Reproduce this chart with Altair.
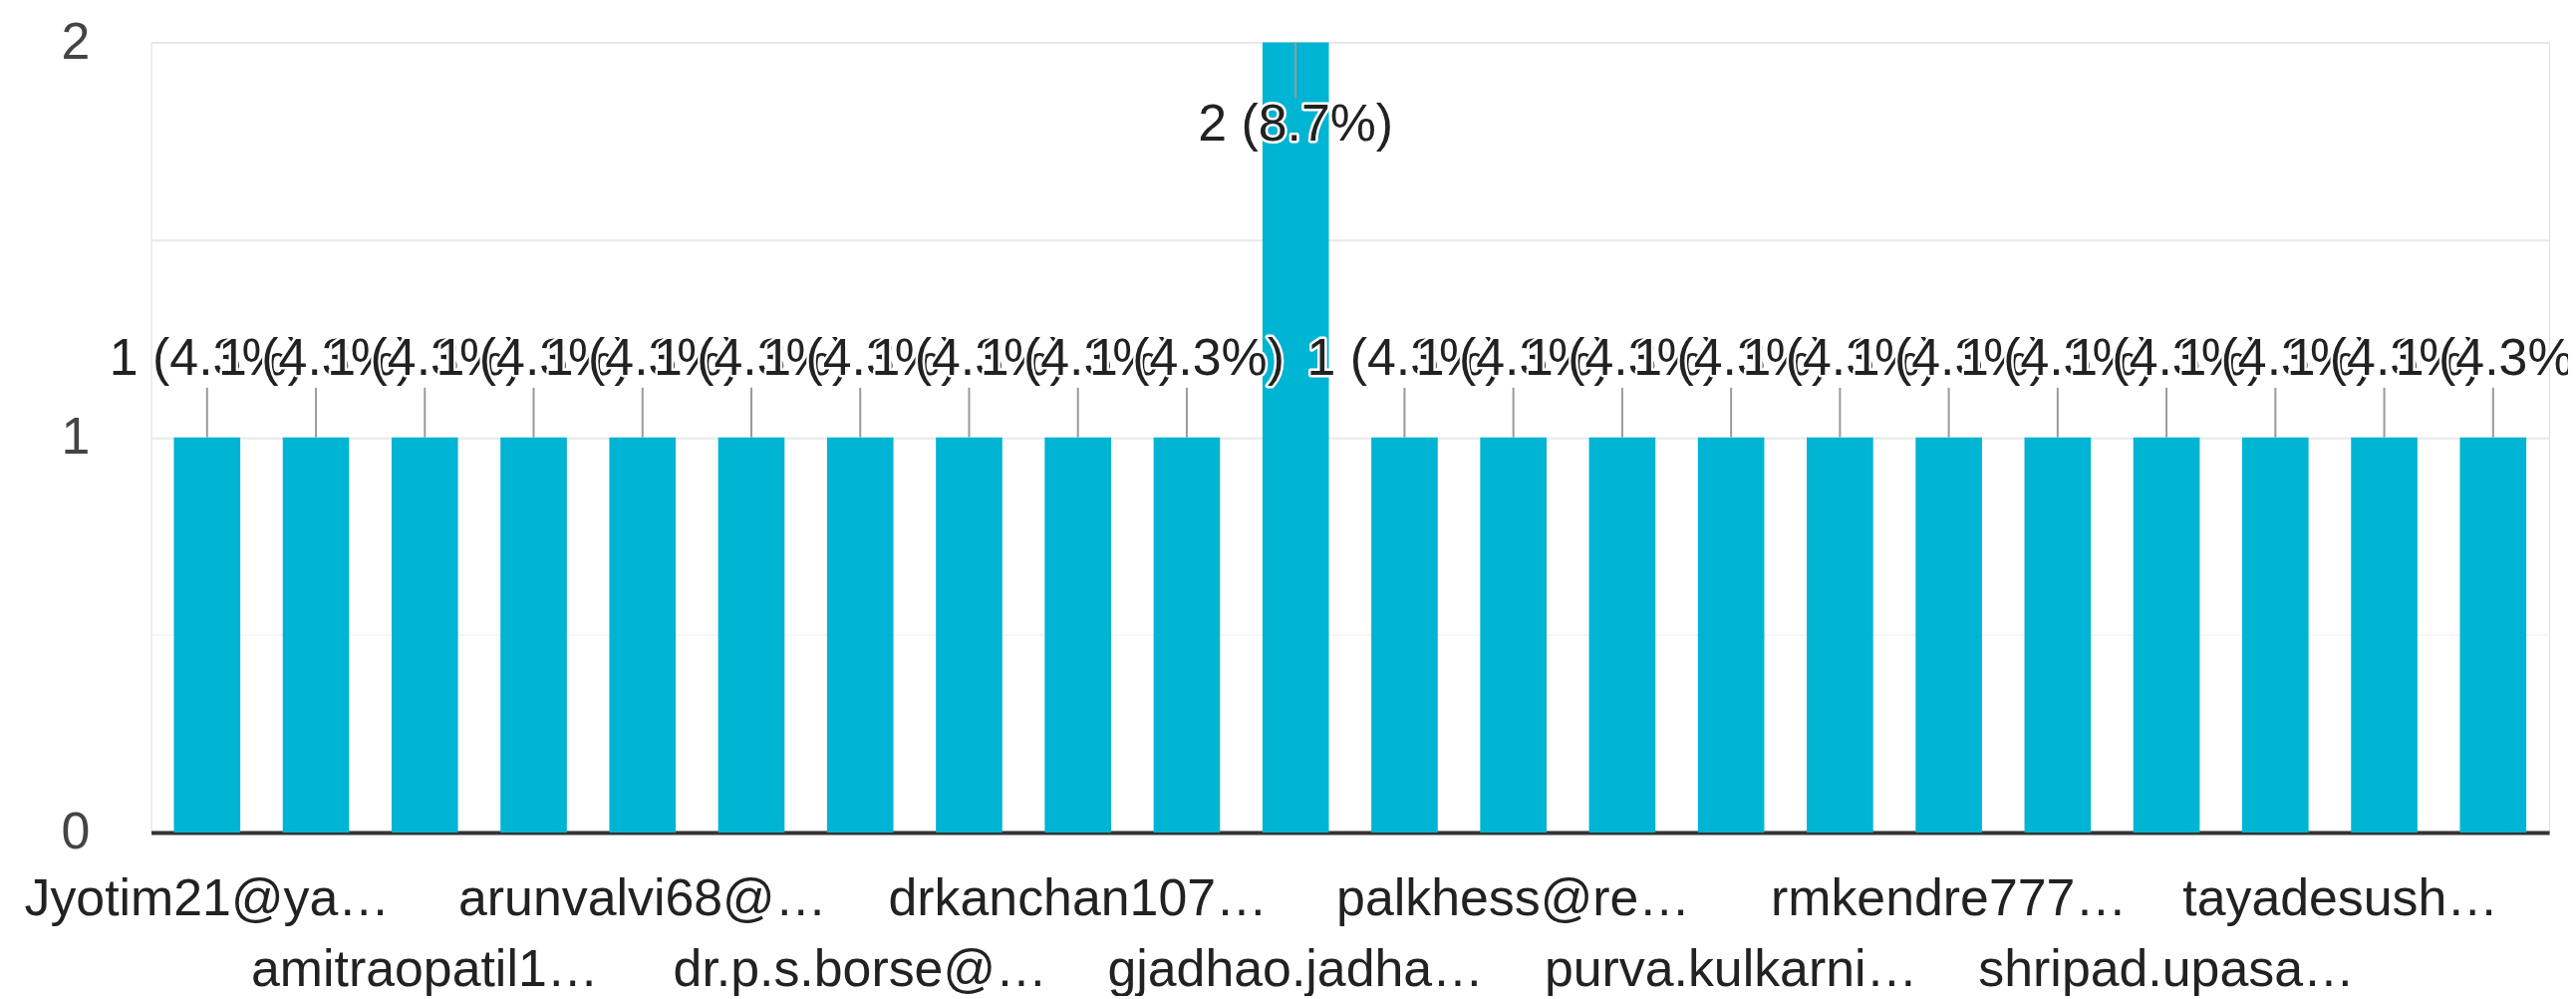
import json
import altair as alt
import pandas as pd

# Respondent labels as shown (only every other one is visible in the chart)
labels = [
    "Jyotim21@ya…", "", "amitraopatil1…", "", "arunvalvi68@…", "",
    "dr.p.s.borse@…", "", "drkanchan107…", "", "gjadhao.jadha…", "",
    "palkhess@re…", "", "purva.kulkarni…", "", "rmkendre777…", "",
    "shripad.upasa…", "", "tayadesush…", "",
]
counts = [1, 1, 1, 1, 1, 1, 1, 1, 1, 1, 2, 1, 1, 1, 1, 1, 1, 1, 1, 1, 1, 1]
y_ticks = [0, 0.5, 1, 1.5, 2]

total = sum(counts)
df = pd.DataFrame({
    "pos": list(range(len(counts))),
    "count": counts,
    "label": [f"{c} ({c / total * 100:.1f}%)" for c in counts],
})

FONT = "Liberation Sans"
FS = 52
BAR = "#00b4d3"
TXT = "#222222"

L = json.dumps(labels, ensure_ascii=False)
x_label_expr = f"datum.value % 4 == 2 ? [' ', {L}[datum.value]] : {L}[datum.value]"

x = alt.X(
    "pos:O",
    scale=alt.Scale(paddingInner=0.39, paddingOuter=0.21),
    axis=alt.Axis(
        title=None, ticks=False, grid=False, labelAngle=0,
        labelExpr=x_label_expr, labelOverlap=False, labelLimit=0,
        labelFont=FONT, labelFontSize=FS, labelColor=TXT,
        labelLineHeight=71, labelPadding=42, labelBaseline="top",
        labelOffset={"condition": {"test": "datum.value == 20", "value": -44}, "value": 0},
        domainColor="#333333", domainWidth=4,
    ),
)
y = alt.Y(
    "count:Q",
    scale=alt.Scale(domain=[0, 2], nice=False),
    axis=alt.Axis(
        title=None, values=y_ticks, ticks=False, domain=False,
        labelExpr="datum.value % 1 == 0 ? format(datum.value, 'd') : ''",
        labelFont=FONT, labelFontSize=FS, labelColor="#444444",
        labelPadding=62,
        gridColor={"condition": {"test": "datum.value == 0.5", "value": "#f6f6f6"}, "value": "#e8e8e8"},
        gridWidth=2,
    ),
)

base = alt.Chart(df)

layers = [base.mark_bar(color=BAR).encode(x=x, y=y)]

layers.append(base.transform_filter("datum.count < 2").mark_rule(
    color="#9a9a9a", strokeWidth=2, y2Offset=-50
).encode(x=x, y=y, y2=alt.Y2("count:Q")))

layers.append(base.transform_filter("datum.count >= 2").mark_rule(
    color="#9a9a9a", strokeWidth=2, y2Offset=56
).encode(x=x, y=y, y2=alt.Y2("count:Q")))

# Each value label: white halo first, then the glyphs, one bar after another
for i, c in enumerate(counts):
    dy = -63 if c < 2 else 99
    one = base.transform_filter(f"datum.pos == {i}")
    layers.append(one.mark_text(
        font=FONT, fontSize=FS, color=TXT, dy=dy, baseline="alphabetic",
        stroke="white", strokeWidth=5, strokeJoin="round",
    ).encode(x=x, y=y, text="label:N"))
    layers.append(one.mark_text(
        font=FONT, fontSize=FS, color=TXT, dy=dy, baseline="alphabetic",
    ).encode(x=x, y=y, text="label:N"))

chart = alt.layer(*layers).properties(
    width=2414,
    height=795,
    autosize=alt.AutoSizeParams(type="none"),
    padding={"left": 144, "top": 33, "right": 19, "bottom": 163},
).configure_view(stroke="#e8e8e8", strokeWidth=2).configure(background="white")

chart.save("out.html", embed_options={"renderer": "svg", "actions": False})
